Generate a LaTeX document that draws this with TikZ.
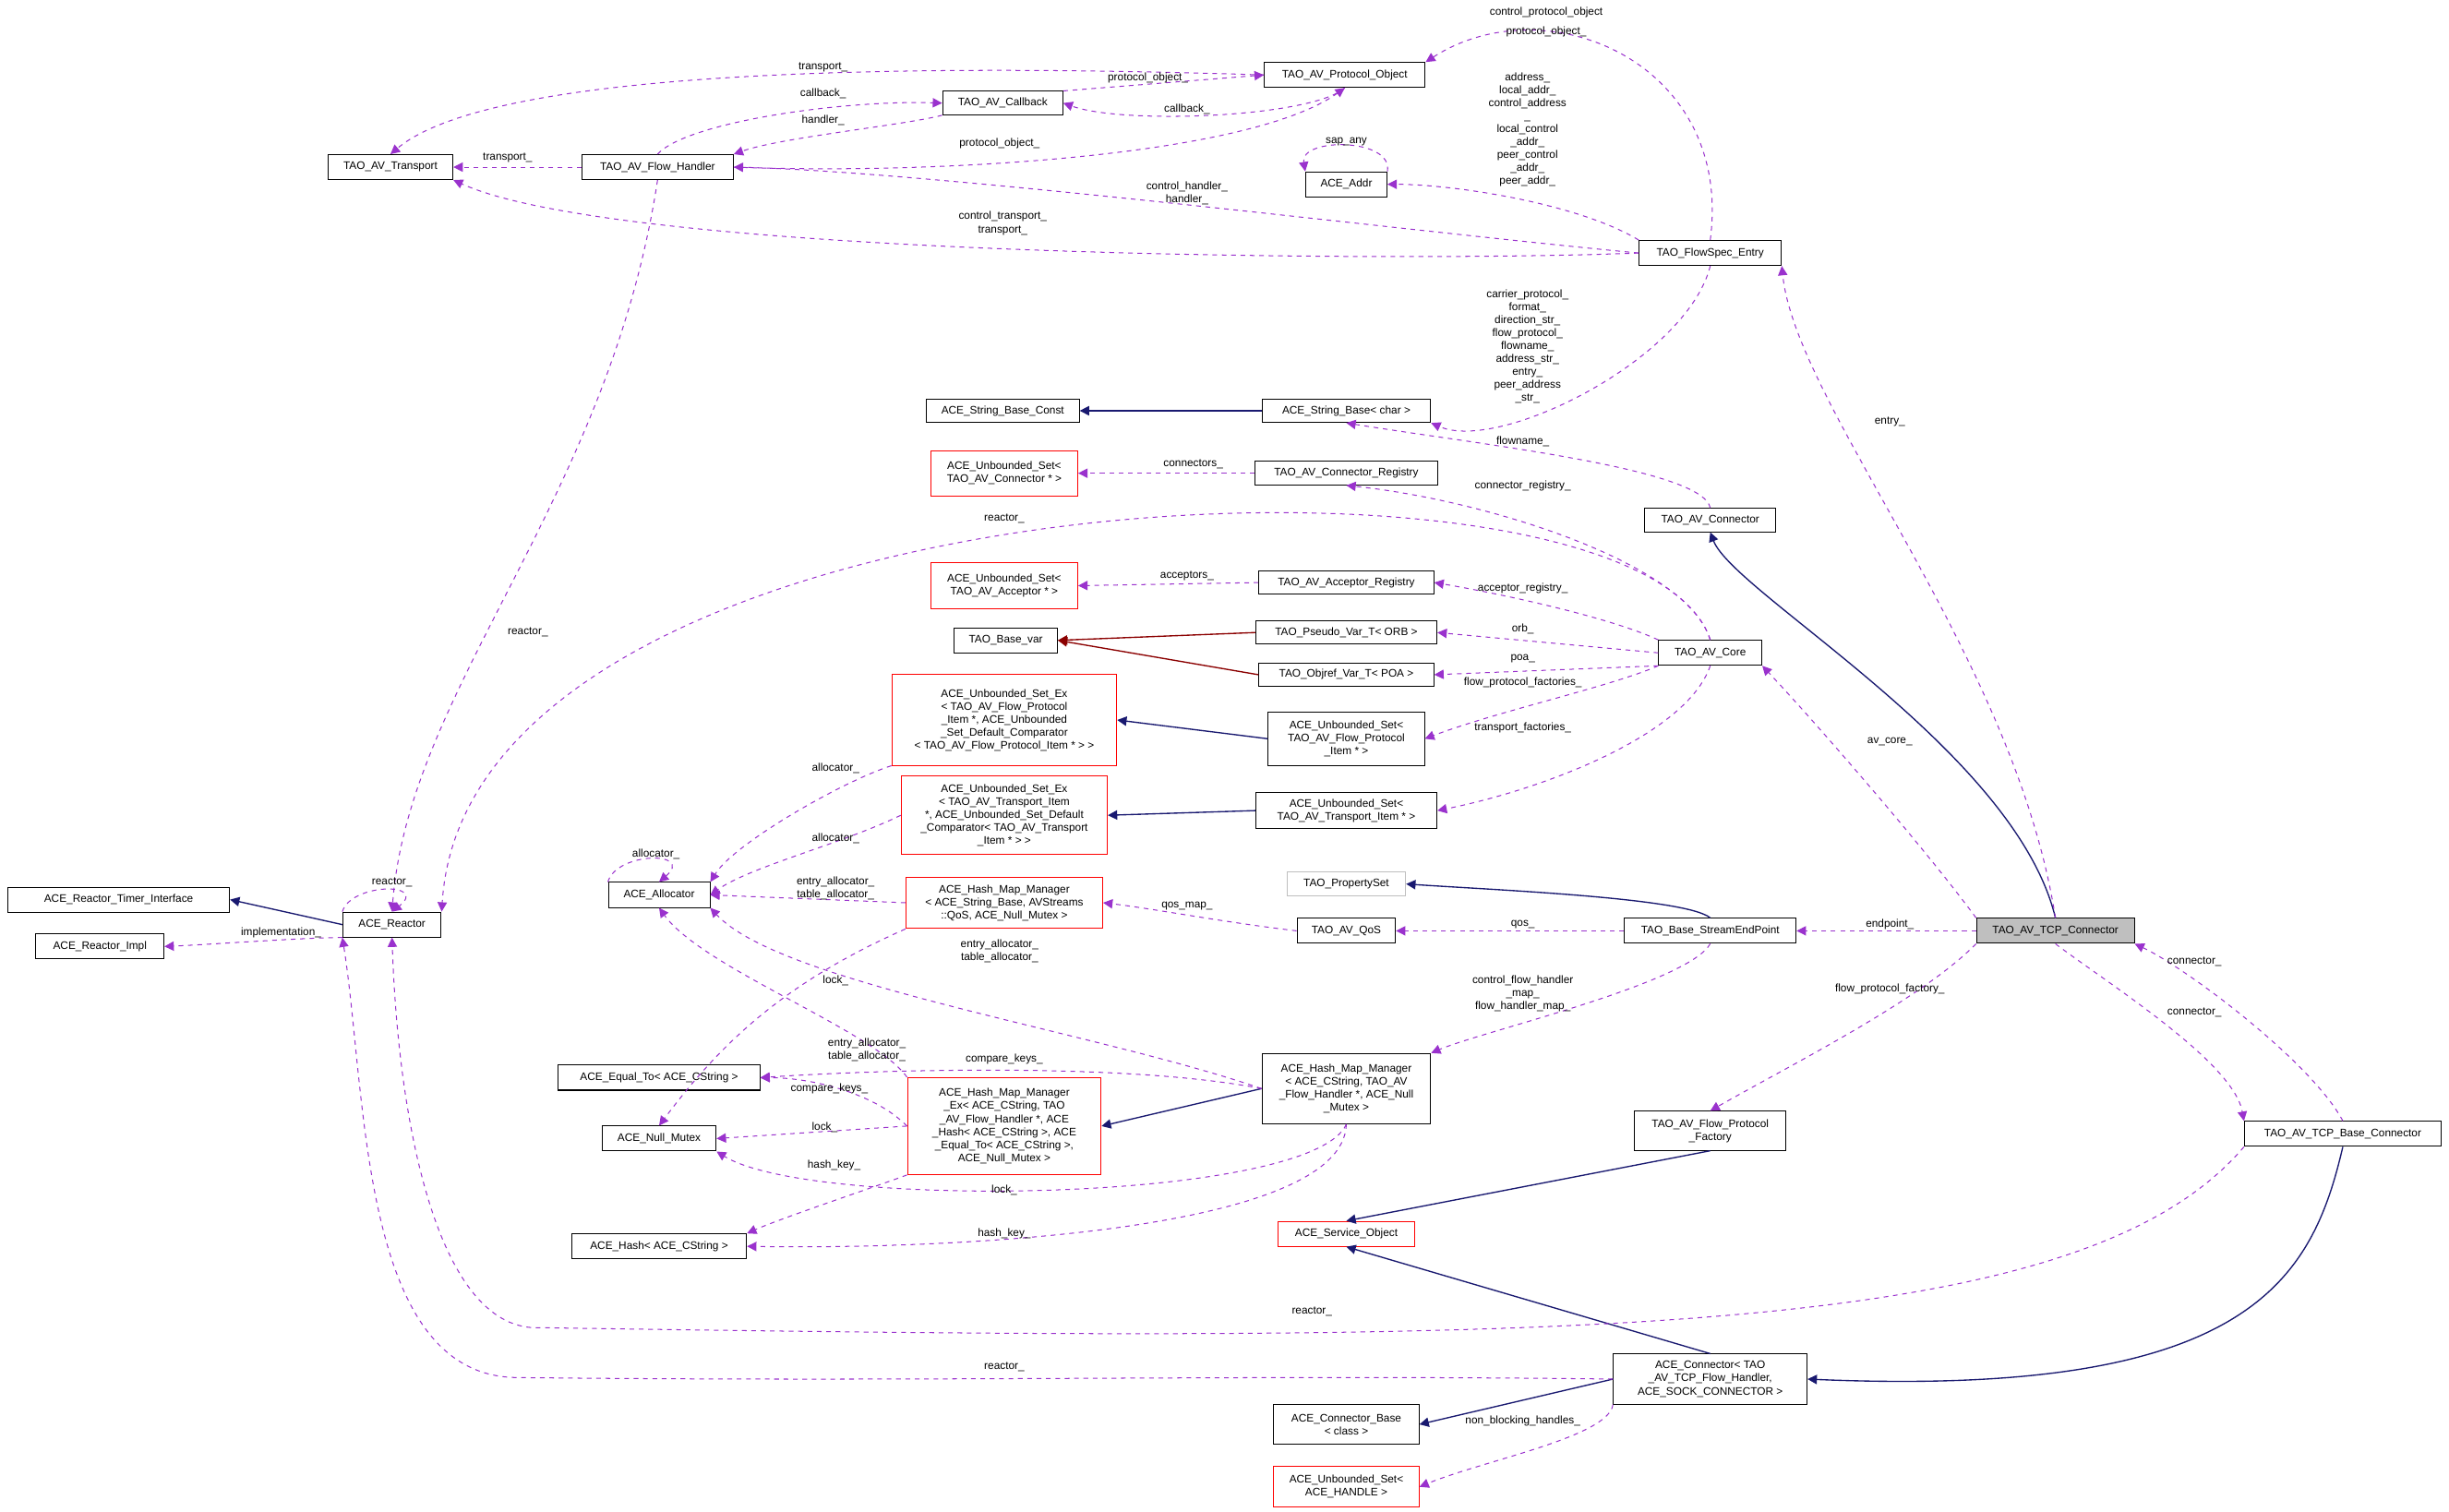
\documentclass[tikz,border=0pt]{standalone}
\usepackage{fontspec}
\setmainfont{Liberation Sans}
\usetikzlibrary{arrows.meta}
\definecolor{purp}{HTML}{9A32CD}
\definecolor{navy}{HTML}{191970}
\definecolor{dred}{HTML}{8B0000}
\definecolor{lgray}{HTML}{BFBFBF}
\begin{document}
\begin{tikzpicture}[x=1pt,y=-1pt,
  font=\fontsize{7}{8.3}\selectfont,
  box/.style={draw,fill=white,inner sep=1pt,align=center,line width=0.6pt},
  rbox/.style={box,draw=red},
  dep/.style={dashed,purp,line width=0.6pt,-{Triangle[length=6pt,width=6pt]}},
  inh/.style={navy,line width=0.8pt,-{Triangle[length=6pt,width=6pt]}},
  inhr/.style={dred,line width=0.8pt,-{Triangle[length=6pt,width=6pt]}},
  lbl/.style={inner sep=0pt,align=center}]
\useasboundingbox (0,0) rectangle (1568,968);
\fill[white] (0,0) rectangle (1568,968);
% nodes
\node[box,minimum width=103,minimum height=16] (po) at (861,48) {TAO\_AV\_Protocol\_Object};
\node[box,minimum width=77,minimum height=15] (cb) at (642,66) {TAO\_AV\_Callback};
\node[box,minimum width=80,minimum height=16] (tr) at (250,107) {TAO\_AV\_Transport};
\node[box,minimum width=97,minimum height=16] (fh) at (421,107) {TAO\_AV\_Flow\_Handler};
\node[box,minimum width=52,minimum height=16] (addr) at (862,118) {ACE\_Addr};
\node[box,minimum width=91,minimum height=16] (fse) at (1095,162) {TAO\_FlowSpec\_Entry};
\node[box,minimum width=98,minimum height=15] (sbk) at (642,263) {ACE\_String\_Base\_Const};
\node[box,minimum width=108,minimum height=15] (sbc) at (862,263) {ACE\_String\_Base< char >};
\node[rbox,minimum width=94,minimum height=29] (usc) at (643,303) {ACE\_Unbounded\_Set<\\TAO\_AV\_Connector * >};
\node[box,minimum width=117,minimum height=15] (cr) at (862,303) {TAO\_AV\_Connector\_Registry};
\node[box,minimum width=84,minimum height=15] (avc) at (1095,333) {TAO\_AV\_Connector};
\node[rbox,minimum width=94,minimum height=29] (usa) at (643,375) {ACE\_Unbounded\_Set<\\TAO\_AV\_Acceptor * >};
\node[box,minimum width=112,minimum height=15] (ar) at (862,373) {TAO\_AV\_Acceptor\_Registry};
\node[box,minimum width=66,minimum height=16] (tbv) at (644,410) {TAO\_Base\_var};
\node[box,minimum width=116,minimum height=15] (pv) at (862,405) {TAO\_Pseudo\_Var\_T< ORB >};
\node[box,minimum width=112,minimum height=15] (ov) at (862,432) {TAO\_Objref\_Var\_T< POA >};
\node[box,minimum width=66,minimum height=16] (core) at (1095,418) {TAO\_AV\_Core};
\node[rbox,minimum width=144,minimum height=58] (sef) at (643,461) {ACE\_Unbounded\_Set\_Ex\\< TAO\_AV\_Flow\_Protocol\\\_Item *, ACE\_Unbounded\\\_Set\_Default\_Comparator\\< TAO\_AV\_Flow\_Protocol\_Item * > >};
\node[box,minimum width=100,minimum height=34] (usf) at (862,473) {ACE\_Unbounded\_Set<\\TAO\_AV\_Flow\_Protocol\\\_Item * >};
\node[rbox,minimum width=132,minimum height=50] (set) at (643,522) {ACE\_Unbounded\_Set\_Ex\\< TAO\_AV\_Transport\_Item\\*, ACE\_Unbounded\_Set\_Default\\\_Comparator< TAO\_AV\_Transport\\\_Item * > >};
\node[box,minimum width=116,minimum height=23] (ust) at (862,519) {ACE\_Unbounded\_Set<\\TAO\_AV\_Transport\_Item * >};
\node[box,minimum width=142,minimum height=16] (rti) at (76,576) {ACE\_Reactor\_Timer\_Interface};
\node[box,minimum width=63,minimum height=16] (rea) at (251,592) {ACE\_Reactor};
\node[box,minimum width=82,minimum height=16] (impl) at (64,606) {ACE\_Reactor\_Impl};
\node[box,minimum width=65,minimum height=16] (alloc) at (422,573) {ACE\_Allocator};
\node[rbox,minimum width=126,minimum height=33] (hmq) at (643,578) {ACE\_Hash\_Map\_Manager\\< ACE\_String\_Base, AVStreams\\::QoS, ACE\_Null\_Mutex >};
\node[box,draw=lgray,minimum width=76,minimum height=15] (ps) at (862,566) {TAO\_PropertySet};
\node[box,minimum width=63,minimum height=16] (qos) at (862,596) {TAO\_AV\_QoS};
\node[box,minimum width=110,minimum height=16] (sep) at (1095,596) {TAO\_Base\_StreamEndPoint};
\node[box,fill=lgray,minimum width=101,minimum height=16] (tcp) at (1316,596) {TAO\_AV\_TCP\_Connector};
\node[box,minimum width=129,minimum height=16] (eq) at (422,690) {ACE\_Equal\_To< ACE\_CString >};
\node[box,minimum width=73,minimum height=16] (nm) at (422,729) {ACE\_Null\_Mutex};
\node[rbox,minimum width=124,minimum height=62] (hme) at (643,721) {ACE\_Hash\_Map\_Manager\\\_Ex< ACE\_CString, TAO\\\_AV\_Flow\_Handler *, ACE\\\_Hash< ACE\_CString >, ACE\\\_Equal\_To< ACE\_CString >,\\ACE\_Null\_Mutex >};
\node[box,minimum width=108,minimum height=45] (hmc) at (862,697) {ACE\_Hash\_Map\_Manager\\< ACE\_CString, TAO\_AV\\\_Flow\_Handler *, ACE\_Null\\\_Mutex >};
\node[box,minimum width=97,minimum height=25] (fpf) at (1095,724) {TAO\_AV\_Flow\_Protocol\\\_Factory};
\node[box,minimum width=126,minimum height=16] (tbc) at (1500,726) {TAO\_AV\_TCP\_Base\_Connector};
\node[box,minimum width=112,minimum height=16] (hash) at (422,798) {ACE\_Hash< ACE\_CString >};
\node[rbox,minimum width=88,minimum height=16] (so) at (862,790) {ACE\_Service\_Object};
\node[box,minimum width=124,minimum height=32] (acon) at (1095,883) {ACE\_Connector< TAO\\\_AV\_TCP\_Flow\_Handler,\\ACE\_SOCK\_CONNECTOR >};
\node[box,minimum width=93,minimum height=25] (cbase) at (862,912) {ACE\_Connector\_Base\\< class >};
\node[rbox,minimum width=93,minimum height=26] (ush) at (862,952) {ACE\_Unbounded\_Set<\\ACE\_HANDLE >};
\coordinate (r1) at (340,850);
\coordinate (r2) at (330,882);
% inheritance
\draw[inh] (sbc.west) -- (sbk.east);
\draw[inh] (tcp.north) .. controls (1290,480) and (1110,380) .. (avc.south);
\draw[inhr] (pv.west) -- (tbv.east);
\draw[inhr] (ov.west) -- (tbv.east);
\draw[inh] (usf.west) -- (sef.east);
\draw[inh] (ust.west) -- (set.east);
\draw[inh] (rea.west) -- (rti.east);
\draw[inh] (sep.north) .. controls (1080,575) and (960,570) .. (ps.east);
\draw[inh] (hmc.west) -- (hme.east);
\draw[inh] (fpf.south) -- (so.north);
\draw[inh] (acon.north) -- (so.south);
\draw[inh] (acon.west) -- (cbase.east);
\draw[inh] (tbc.south) .. controls (1480,820) and (1440,895) .. (acon.east);
% dependencies
\draw[dep] (po.west) .. controls (620,42) and (320,40) .. (tr.north);
\node[lbl] (l1) at (527,43) {transport\_};
\draw[dep] (cb.north east) -- (po.west);
\node[lbl] (l2) at (735,50) {protocol\_object\_};
\draw[dep] (po.south) .. controls (840,75) and (720,80) .. (cb.east);
\node[lbl] (l3) at (760,70) {callback\_};
\draw[dep] (fh.north) .. controls (440,78) and (540,64) .. (cb.west);
\node[lbl] (l4) at (527,60) {callback\_};
\draw[dep] (cb.south west) .. controls (580,80) and (500,88) .. (fh.north east);
\node[lbl] (l5) at (527,77) {handler\_};
\draw[dep] (fh.east) .. controls (600,112) and (800,100) .. (po.south);
\node[lbl] (l6) at (640,92) {protocol\_object\_};
\draw[dep] (fh.west) -- (tr.east);
\node[lbl] (l7) at (325,101) {transport\_};
\draw[dep] (fse.north) .. controls (1110,40) and (990,-10) .. (po.north east);
\node[lbl] (l8) at (990,14) {control\_protocol\_object\\[4pt]protocol\_object\_};
\draw[dep] (fse.north west) .. controls (1010,130) and (930,118) .. (addr.east);
\node[lbl] (l9) at (978,83) {address\_\\local\_addr\_\\control\_address\\\_\\local\_control\\\_addr\_\\peer\_control\\\_addr\_\\peer\_addr\_};
\draw[dep] (addr.north east) .. controls (892,88) and (832,88) .. (addr.north west);
\node[lbl] (l10) at (862,91) {sap\_any};
\draw[dep] (fse.west) .. controls (900,148) and (600,110) .. (fh.east);
\node[lbl] (l11) at (760,124) {control\_handler\_\\handler\_};
\draw[dep] (fse.west) .. controls (900,168) and (400,165) .. (tr.south east);
\node[lbl] (l12) at (642,143) {control\_transport\_\\transport\_};
\draw[dep] (fse.south) .. controls (1080,230) and (960,290) .. (sbc.south east);
\node[lbl] (l13) at (978,222) {carrier\_protocol\_\\format\_\\direction\_str\_\\flow\_protocol\_\\flowname\_\\address\_str\_\\entry\_\\peer\_address\\\_str\_};
\draw[dep] (avc.north) .. controls (1090,300) and (950,285) .. (sbc.south);
\node[lbl] (l14) at (975,283) {flowname\_};
\draw[dep] (cr.west) -- (usc.east);
\node[lbl] (l15) at (764,297) {connectors\_};
\draw[dep] (core.north) .. controls (1080,360) and (950,320) .. (cr.south);
\node[lbl] (l16) at (975,311) {connector\_registry\_};
\draw[dep] (core.north) .. controls (1050,270) and (300,300) .. (rea.north east);
\node[lbl] (l17) at (643,332) {reactor\_};
\draw[dep] (fh.south) .. controls (390,320) and (262,440) .. (rea.north);
\node[lbl] (l18) at (338,405) {reactor\_};
\draw[dep] (ar.west) -- (usa.east);
\node[lbl] (l19) at (760,369) {acceptors\_};
\draw[dep] (core.north west) .. controls (1030,395) and (960,380) .. (ar.east);
\node[lbl] (l20) at (975,377) {acceptor\_registry\_};
\draw[dep] (core.west) -- (pv.east);
\node[lbl] (l21) at (975,403) {orb\_};
\draw[dep] (core.south west) -- (ov.east);
\node[lbl] (l22) at (975,422) {poa\_};
\draw[dep] (core.south west) .. controls (1030,440) and (960,455) .. (usf.east);
\node[lbl] (l23) at (975,437) {flow\_protocol\_factories\_};
\draw[dep] (core.south) .. controls (1080,470) and (990,505) .. (ust.east);
\node[lbl] (l24) at (975,466) {transport\_factories\_};
\draw[dep] (sef.south west) .. controls (540,500) and (470,540) .. (alloc.north east);
\node[lbl] (l25) at (535,492) {allocator\_};
\draw[dep] (set.west) .. controls (540,540) and (480,555) .. (alloc.east);
\node[lbl] (l26) at (535,537) {allocator\_};
\draw[dep] (alloc.north west) .. controls (395,545) and (445,545) .. (alloc.north);
\node[lbl] (l27) at (420,547) {allocator\_};
\draw[dep] (rea.north west) .. controls (225,565) and (275,565) .. (rea.north);
\node[lbl] (l28) at (251,565) {reactor\_};
\draw[dep] (rea.south west) .. controls (200,600) and (130,605) .. (impl.east);
\node[lbl] (l29) at (180,597) {implementation\_};
\draw[dep] (hmq.west) -- (alloc.east);
\node[lbl] (l30) at (535,569) {entry\_allocator\_\\table\_allocator\_};
\draw[dep] (hmq.south west) .. controls (500,630) and (460,670) .. (nm.north);
\node[lbl] (l31) at (535,628) {lock\_};
\draw[dep] (qos.west) .. controls (780,590) and (740,582) .. (hmq.east);
\node[lbl] (l32) at (760,580) {qos\_map\_};
\draw[dep] (sep.west) -- (qos.east);
\node[lbl] (l33) at (975,592) {qos\_};
\draw[dep] (tcp.west) -- (sep.east);
\node[lbl] (l34) at (1210,592) {endpoint\_};
\draw[dep] (tcp.north west) .. controls (1230,540) and (1160,460) .. (core.south east);
\node[lbl] (l35) at (1210,475) {av\_core\_};
\draw[dep] (tcp.north) .. controls (1290,420) and (1150,260) .. (fse.south east);
\node[lbl] (l36) at (1210,270) {entry\_};
\draw[dep] (tcp.south west) .. controls (1230,640) and (1150,680) .. (fpf.north);
\node[lbl] (l37) at (1210,633) {flow\_protocol\_factory\_};
\draw[dep] (tbc.north) .. controls (1480,680) and (1400,620) .. (tcp.south east);
\node[lbl] (l38) at (1405,616) {connector\_};
\draw[dep] (tcp.south) .. controls (1350,630) and (1430,680) .. (tbc.north west);
\node[lbl] (l39) at (1405,648) {connector\_};
\draw[dep] (sep.south) .. controls (1080,630) and (950,660) .. (hmc.north east);
\node[lbl] (l40) at (975,636) {control\_flow\_handler\\\_map\_\\flow\_handler\_map\_};
\draw[dep] (hmc.west) .. controls (700,660) and (500,630) .. (alloc.south east);
\node[lbl] (l41) at (640,609) {entry\_allocator\_\\table\_allocator\_};
\draw[dep] (hmc.west) .. controls (720,680) and (560,685) .. (eq.east);
\node[lbl] (l42) at (643,678) {compare\_keys\_};
\draw[dep] (hmc.south) .. controls (840,770) and (520,775) .. (nm.south east);
\node[lbl] (l43) at (643,762) {lock\_};
\draw[dep] (hmc.south) .. controls (860,790) and (600,800) .. (hash.east);
\node[lbl] (l44) at (643,790) {hash\_key\_};
\draw[dep] (hme.north west) .. controls (560,660) and (450,620) .. (alloc.south);
\node[lbl] (l45) at (555,672) {entry\_allocator\_\\table\_allocator\_};
\draw[dep] (hme.west) .. controls (560,700) and (520,690) .. (eq.east);
\node[lbl] (l46) at (531,697) {compare\_keys\_};
\draw[dep] (hme.west) -- (nm.east);
\node[lbl] (l47) at (528,722) {lock\_};
\draw[dep] (hme.south west) .. controls (560,760) and (500,780) .. (hash.north east);
\node[lbl] (l48) at (534,746) {hash\_key\_};
\draw[dep] (tbc.south west) .. controls (1330,860) and (1000,860) .. (r1) .. controls (280,845) and (255,720) .. (rea.south);
\node[lbl] (l49) at (840,840) {reactor\_};
\draw[dep] (acon.west) .. controls (800,880) and (600,885) .. (r2) .. controls (230,880) and (235,700) .. (rea.south west);
\node[lbl] (l50) at (643,875) {reactor\_};
\draw[dep] (acon.south west) .. controls (1030,920) and (950,935) .. (ush.east);
\node[lbl] (l51) at (975,910) {non\_blocking\_handles\_};
\end{tikzpicture}
\end{document}
